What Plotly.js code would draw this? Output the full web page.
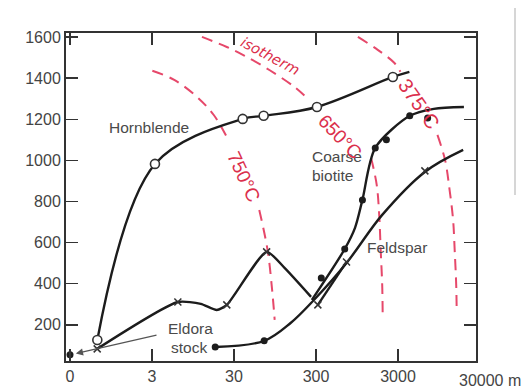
<!DOCTYPE html>
<html><head><meta charset="utf-8">
<script src="https://cdn.plot.ly/plotly-3.0.1.min.js"></script>
<style>html,body{margin:0;padding:0;background:#fff}</style>
</head><body><div id="chart" style="width:526px;height:389px"></div>
<script>
// distance (m) on log axis, apparent age (m.y.)
const xTickVals = [0.3, 3, 30, 300, 3000];
const xTickText = ['0', '3', '30', '300', '3000'];
const yTickVals = [200, 400, 600, 800, 1000, 1200, 1400, 1600];

// Hornblende (open circles)
const hornX = [0.646, 3.26, 38.3, 69, 308, 2595];
const hornY = [126, 983, 1202, 1217, 1260, 1406];
const hornLineX = [0.646, 3.26, 38.3, 69, 308, 2595, 4130];
const hornLineY = [126, 983, 1202, 1217, 1260, 1406, 1431];

// Feldspar (crosses)
const feldX = [0.644, 6.2, 24.5, 75, 316, 707, 6380];
const feldY = [83, 311, 297, 555, 297, 506, 949];
const feldHumpX = [0.644, 6.2, 11.8, 18.5, 24.5, 75, 124, 261];
const feldHumpY = [83, 311, 302, 272, 297, 555, 477, 336];
const feldSegX = [316, 707];
const feldSegY = [297, 506];
const lowerX = [17.7, 70, 147, 283, 707, 1925, 6380, 18700];
const lowerY = [92, 122, 209, 321, 501, 735, 944, 1051];

// Coarse biotite (filled dots)
const bioLineX = [267, 672, 897, 1105, 1584, 4170, 8200, 19100];
const bioLineY = [321, 569, 672, 808, 1061, 1217, 1251, 1260];
const bioDotX = [0.3, 17.7, 70, 348, 672, 1105, 1584, 2166, 4170, 6900];
const bioDotY = [54, 92, 122, 428, 569, 808, 1061, 1100, 1217, 1207];

// isotherms
const iso750X = [3.03, 5.6, 10.6, 17, 26.3, null, 61, 77, 87.5, 94];
const iso750Y = [1436, 1392, 1309, 1221, 1090, null, 759, 564, 370, 224];
const iso650X = [12.2, 24.5, 40.5, 81, 163, 247, null, 1410, 1650, 1770, 1845, 1925, 1950];
const iso650Y = [1601, 1552, 1509, 1440, 1358, 1294, null, 1012, 881, 735, 564, 394, 258];
const iso375X = [973, 1698, 2718, 3210, null, 9080, 11250, 12780, 14100, 14730, 15380, 15600];
const iso375Y = [1601, 1538, 1474, 1431, null, 1124, 1002, 856, 710, 564, 394, 258];

const BLACK = '#1c1c1c';
const RED = '#e6486a';
const REDTXT = '#db2f4c';
const FONT = 'Liberation Sans, Arial, sans-serif';

const W = 526, H = 389, ML = 66, MR = 50, MT = 33, MB = 28;
const PW = W - ML - MR, PH = H - MT - MB;
function P(px, py) { return {x: (px - ML) / PW, y: (H - MB - py) / PH}; }

function iso(x, y) {
  return {x, y, type: 'scatter', mode: 'lines', hoverinfo: 'skip',
    line: {color: RED, width: 2, dash: '11px,7px', shape: 'spline', smoothing: 1},
    connectgaps: false};
}
function blackLine(x, y, sm) {
  return {x, y, type: 'scatter', mode: 'lines',
    line: {color: BLACK, width: 2.4, shape: 'spline', smoothing: sm}};
}

const data = [
  iso(iso750X, iso750Y), iso(iso650X, iso650Y), iso(iso375X, iso375Y),
  blackLine(hornLineX, hornLineY, 1),
  blackLine(feldHumpX, feldHumpY, 0.6),
  blackLine(feldSegX, feldSegY, 0),
  blackLine(lowerX, lowerY, 1),
  blackLine(bioLineX, bioLineY, 0.8),
  {x: hornX, y: hornY, type: 'scatter', mode: 'markers',
   marker: {symbol: 'circle', size: 9, color: '#fff', line: {color: '#333', width: 1.6}}},
  {x: feldX, y: feldY, type: 'scatter', mode: 'markers',
   marker: {symbol: 'x-thin-open', size: 7, color: '#333', line: {color: '#333', width: 1.5}}},
  {x: bioDotX, y: bioDotY, type: 'scatter', mode: 'markers',
   marker: {symbol: 'circle', size: 7, color: BLACK}}
];

function lab(text, px, py, opts) {
  const p = P(px, py);
  return Object.assign({xref: 'paper', yref: 'paper', x: p.x, y: p.y, text,
    showarrow: false, xanchor: 'center', yanchor: 'middle',
    font: {family: FONT, size: 15.5, color: '#4a4a4a'}}, opts || {});
}

const annotations = [
  lab('Hornblende', 149, 127),
  lab('Coarse', 310, 156, {xanchor: 'left'}),
  lab('biotite', 310, 175, {xanchor: 'left'}),
  lab('Feldspar', 365, 247, {xanchor: 'left'}),
  lab('Eldora', 190, 328),
  lab('stock', 189, 347),
  lab('30000 m', 490, 380, {font: {family: FONT, size: 16, color: '#444'}}),
  lab('isotherm', 270, 56, {textangle: 28, font: {family: 'DejaVu Sans', size: 14.5, color: REDTXT, style: 'italic'}}),
  lab('750°C', 244, 176, {textangle: 65, font: {family: FONT, size: 19, color: REDTXT}}),
  lab('650°C', 340, 136, {textangle: 46, font: {family: FONT, size: 19, color: REDTXT}}),
  lab('375°C', 419, 104, {textangle: 55, font: {family: FONT, size: 20, color: REDTXT}}),
  {x: Math.log10(bioDotX[0]), y: bioDotY[0], xref: 'x', yref: 'y', text: '',
   showarrow: true, ax: 88, ay: -20, arrowhead: 2, arrowsize: 1.2, arrowwidth: 1.2,
   arrowcolor: '#555', standoff: 6}
];

const axisCommon = {
  showgrid: false, zeroline: false, showline: true, linecolor: '#333', linewidth: 2,
  mirror: 'ticks', ticks: 'inside', ticklen: 12, tickwidth: 1.5, tickcolor: '#333',
  tickfont: {family: FONT, size: 16, color: '#444'}
};

const layout = {
  width: W, height: H, margin: {l: ML, r: MR, t: MT, b: MB, pad: 0},
  paper_bgcolor: '#fff', plot_bgcolor: '#fff', showlegend: false,
  xaxis: Object.assign({}, axisCommon, {type: 'log',
    range: [Math.log10(0.3) - 4 / 82, Math.log10(0.3) + 406 / 82],
    tickvals: xTickVals, ticktext: xTickText}),
  yaxis: Object.assign({}, axisCommon, {range: [24, 1620], tickvals: yTickVals}),
  annotations,
  shapes: [{type: 'line', xref: 'paper', yref: 'paper',
    x0: (515 - ML) / PW, x1: (515 - ML) / PW, y0: (H - MB - 195) / PH, y1: (H - MB - 8) / PH,
    line: {color: '#d6d6d6', width: 2}}]
};

Plotly.newPlot('chart', data, layout, {staticPlot: true, displayModeBar: false});
</script></body></html>
